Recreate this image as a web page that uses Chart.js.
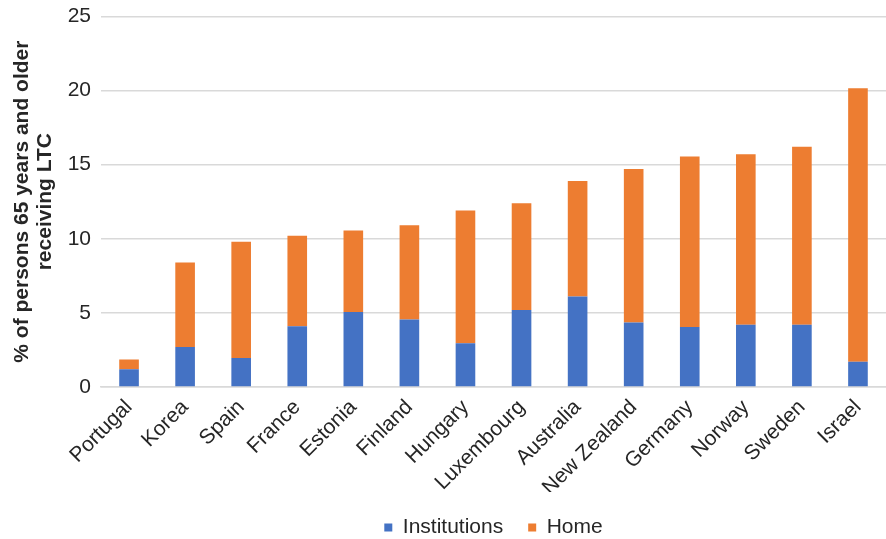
<!DOCTYPE html>
<html>
<head>
<meta charset="utf-8">
<script src="https://cdn.jsdelivr.net/npm/chart.js@4/dist/chart.umd.min.js"></script>
<style>
  html, body { margin: 0; padding: 0; background: #fff; }
  #wrap { width: 886px; height: 539px; position: relative; }
</style>
</head>
<body>
<div id="wrap"><canvas id="c" width="886" height="539"></canvas></div>
<script>
// Share of people aged 65+ receiving long-term care, by setting
const countries = ['Portugal', 'Korea', 'Spain', 'France', 'Estonia', 'Finland', 'Hungary',
  'Luxembourg', 'Australia', 'New Zealand', 'Germany', 'Norway', 'Sweden', 'Israel'];
const institutions = [1.2, 2.7, 1.95, 4.1, 5.05, 4.55, 2.95, 5.2, 6.1, 4.35, 4.05, 4.2, 4.2, 1.7];
const home = [0.65, 5.7, 7.85, 6.1, 5.5, 6.35, 8.95, 7.2, 7.8, 10.35, 11.5, 11.5, 12.0, 18.45];
const yTicks = [0, 5, 10, 15, 20, 25];

const FONT = "'Liberation Sans', Arial, sans-serif";
const TEXT = '#262626';
const GRID = '#d9d9d9';

// Center the legend under the plot area rather than the whole canvas
const legendUnderPlot = {
  id: 'legendUnderPlot',
  afterLayout(chart) {
    const lg = chart.legend;
    const area = chart.chartArea;
    const shift = (area.left + area.right) / 2 - (lg.left + lg.right) / 2;
    lg.left += shift;
    lg.right += shift;
  }
};

new Chart(document.getElementById('c'), {
  type: 'bar',
  data: {
    labels: countries,
    datasets: [
      { label: 'Institutions', data: institutions, backgroundColor: '#4472C4' },
      { label: 'Home', data: home, backgroundColor: '#ED7D31' }
    ]
  },
  plugins: [legendUnderPlot],
  options: {
    responsive: false,
    animation: false,
    devicePixelRatio: 1,
    datasets: { bar: { categoryPercentage: 1, barPercentage: 0.35 } },
    layout: { padding: { top: 7, right: 0, left: 0, bottom: -9 } },
    plugins: {
      tooltip: { enabled: false },
      legend: {
        position: 'bottom',
        labels: {
          font: { family: FONT, size: 21 },
          color: TEXT,
          boxWidth: 8,
          boxHeight: 8,
          padding: 25
        }
      }
    },
    scales: {
      x: {
        stacked: true,
        grid: { display: false },
        border: { display: true, color: GRID, width: 1.5 },
        ticks: {
          font: { family: FONT, size: 21 },
          color: TEXT,
          minRotation: 45,
          maxRotation: 45,
          padding: 0
        },
        afterFit: s => { s.height = 105; }
      },
      y: {
        stacked: true,
        min: 0,
        max: 25,
        afterBuildTicks: s => { s.ticks = yTicks.map(v => ({ value: v })); },
        grid: { color: GRID, lineWidth: 1.5, drawTicks: false },
        border: { display: false },
        ticks: {
          font: { family: FONT, size: 21, lineHeight: 0.6 },
          color: TEXT,
          padding: 10
        },
        title: {
          display: true,
          text: ['% of persons 65 years and older', 'receiving LTC'],
          font: { family: FONT, size: 21, weight: 'bold', lineHeight: 1.1 },
          color: TEXT,
          padding: { top: 11, bottom: 0 }
        },
        afterFit: s => { s.width = 101; }
      }
    }
  }
});
</script>
</body>
</html>
